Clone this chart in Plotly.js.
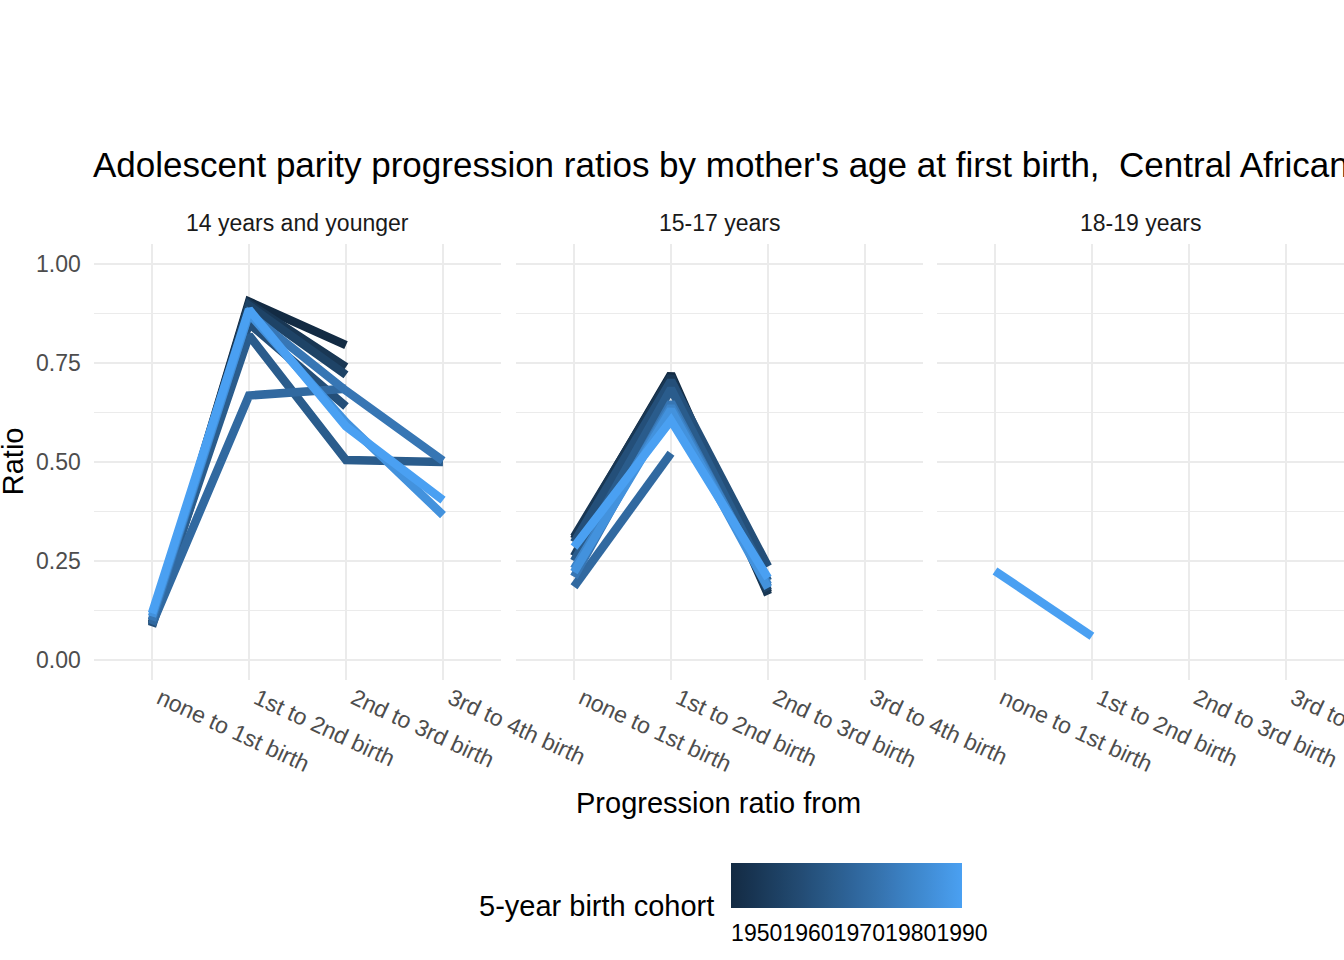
<!DOCTYPE html>
<html>
<head>
<meta charset="utf-8">
<script src="https://cdn.plot.ly/plotly-3.0.1.min.js"></script>
<style>html,body{margin:0;padding:0;background:#fff;}#chart{width:1344px;height:960px;}</style>
</head>
<body>
<div id="chart"></div>
<script>
// ---------- data ----------
const categories = ["none to 1st birth", "1st to 2nd birth", "2nd to 3rd birth", "3rd to 4th birth"];
const panelLabels = ["14 years and younger", "15-17 years", "18-19 years"];
const colorTicks = [1950, 1960, 1970, 1980, 1990];
const cohortMin = 1945;
const cohortMax = 1990;

// 14 years and younger
const cohorts14 = [1945, 1950, 1955, 1960, 1965, 1970, 1975, 1985, 1990];
const ratios14 = [
  [0.090, 0.905, 0.795, null],
  [0.090, 0.900, 0.740, null],
  [0.095, 0.895, 0.720, null],
  [0.085, 0.850, 0.640, null],
  [0.100, 0.820, 0.505, 0.500],
  [0.090, 0.668, 0.685, null],
  [0.100, 0.875, 0.680, 0.503],
  [0.110, 0.875, 0.600, 0.366],
  [0.118, 0.885, 0.590, 0.404]
];

// 15-17 years
const cohorts1517 = [1945, 1950, 1955, 1960, 1965, 1970, 1975, 1980, 1985, 1990];
const ratios1517 = [
  [0.305, 0.722, 0.170],
  [0.311, 0.716, 0.165],
  [0.262, 0.705, 0.175],
  [0.297, 0.705, 0.236],
  [0.250, 0.685, 0.200],
  [0.185, 0.522, null],
  [0.210, 0.650, 0.185],
  [0.230, 0.640, 0.190],
  [0.222, 0.632, 0.182],
  [0.285, 0.605, 0.207]
];

// 18-19 years
const cohorts1819 = [1990];
const ratios1819 = [
  [0.225, 0.060]
];

// ---------- colour helpers (Lab interpolation like ggplot's gradient) ----------
const lowHex = "#132B43", highHex = "#4AA0F2";
function hexToRgb(h){h=h.replace('#','');return [parseInt(h.substr(0,2),16),parseInt(h.substr(2,2),16),parseInt(h.substr(4,2),16)];}
function lin(c){c/=255;return c<=0.04045?c/12.92:Math.pow((c+0.055)/1.055,2.4);}
function delin(c){const v=c<=0.0031308?12.92*c:1.055*Math.pow(c,1/2.4)-0.055;return Math.max(0,Math.min(255,Math.round(v*255)));}
const Xn=0.95047,Yn=1,Zn=1.08883;
function f(t){return t>0.008856?Math.cbrt(t):7.787*t+16/116;}
function finv(t){const t3=t*t*t;return t3>0.008856?t3:(t-16/116)/7.787;}
function rgbToLab(rgb){const r=lin(rgb[0]),g=lin(rgb[1]),b=lin(rgb[2]);
  const X=0.4124564*r+0.3575761*g+0.1804375*b,Y=0.2126729*r+0.7151522*g+0.0721750*b,Z=0.0193339*r+0.1191920*g+0.9503041*b;
  const fx=f(X/Xn),fy=f(Y/Yn),fz=f(Z/Zn);return [116*fy-16,500*(fx-fy),200*(fy-fz)];}
function labToRgb(lab){const fy=(lab[0]+16)/116,fx=fy+lab[1]/500,fz=fy-lab[2]/200;
  const X=Xn*finv(fx),Y=Yn*finv(fy),Z=Zn*finv(fz);
  const r=3.2404542*X-1.5371385*Y-0.4985314*Z,g=-0.9692660*X+1.8760108*Y+0.0415560*Z,b=0.0556434*X-0.2040259*Y+1.0572252*Z;
  return [delin(r),delin(g),delin(b)];}
const labLo=rgbToLab(hexToRgb(lowHex)),labHi=rgbToLab(hexToRgb(highHex));
function colorAt(t){const lab=[0,1,2].map(i=>labLo[i]+(labHi[i]-labLo[i])*t);const c=labToRgb(lab);return 'rgb('+c.join(',')+')';}
function cohortColor(c){return colorAt((c-cohortMin)/(cohortMax-cohortMin));}
const colorscale=[];for(let i=0;i<=20;i++){colorscale.push([i/20,colorAt(i/20)]);}

// ---------- traces ----------
const traces=[];
function addPanel(cohorts, ratios, xa){
  cohorts.forEach((c,i)=>{
    traces.push({type:'scatter',mode:'lines',xaxis:xa,yaxis:'y',
      x:categories.slice(0,ratios[i].length),y:ratios[i],
      line:{color:cohortColor(c),width:8.5},connectgaps:false,hoverinfo:'skip',showlegend:false});
  });
}
addPanel(cohorts14, ratios14, 'x');
addPanel(cohorts1517, ratios1517, 'x2');
addPanel(cohorts1819, ratios1819, 'x3');

const fontFam='Liberation Sans, Arial, Helvetica, sans-serif';
// colour bar carrier
traces.push({type:'scatter',mode:'markers',xaxis:'x',yaxis:'y',x:[null,null],y:[null,null],showlegend:false,hoverinfo:'skip',
  marker:{color:[cohortMin,cohortMax],cmin:cohortMin,cmax:cohortMax,colorscale:colorscale,showscale:true,
    colorbar:{orientation:'h',thickness:45,thicknessmode:'pixels',len:231,lenmode:'pixels',
      x:731/1344,xanchor:'left',xref:'container',y:1-863/960,yanchor:'top',yref:'container',
      xpad:0,ypad:0,outlinewidth:0,tickvals:colorTicks,ticktext:colorTicks.map(String),tickangle:0,
      ticks:'outside',ticklen:6,tickcolor:'rgba(255,255,255,0)',tickwidth:1,
      tickfont:{family:fontFam,size:23,color:'#000'}}}});

// ---------- layout ----------
const W=1344,H=960;
const yTop=244.2,yBot=679.8;
const panels=[[93.8,501.2],[515.8,923.2],[936.8,1344.2]];
function xaxisDef(p){return {domain:[p[0]/W,Math.min(1,p[1]/W)],type:'category',categoryorder:'array',categoryarray:categories,
  range:[-0.6,3.6],showgrid:true,gridcolor:'#EBEBEB',gridwidth:2,zeroline:false,showline:false,ticks:'',
  tickangle:25,ticklabelshift:8,tickfont:{family:fontFam,size:23,color:'#4D4D4D'},anchor:'y',fixedrange:true,automargin:false};}
const layout={
  width:W,height:H,margin:{l:0,r:0,t:0,b:0,autoexpand:false},paper_bgcolor:'#fff',plot_bgcolor:'#fff',showlegend:false,
  title:{text:"Adolescent parity progression ratios by mother's age at first birth,\u00a0 Central African Republic",
    x:93/W,xanchor:'left',xref:'container',y:1-164.6/H,yanchor:'middle',yref:'container',automargin:false,
    font:{family:fontFam,size:35,color:'#000'}},
  xaxis:xaxisDef(panels[0]),xaxis2:xaxisDef(panels[1]),xaxis3:xaxisDef(panels[2]),
  yaxis:{domain:[1-yBot/H,1-yTop/H],range:[-0.05,1.05],tickvals:[0,0.25,0.5,0.75,1],ticktext:['0.00','0.25','0.50','0.75','1.00'],
    showgrid:true,gridcolor:'#EBEBEB',gridwidth:2,zeroline:false,showline:false,ticks:'',ticklabelstandoff:12,
    minor:{tickvals:[0.125,0.375,0.625,0.875],showgrid:true,gridcolor:'#EBEBEB',gridwidth:1,ticks:''},
    tickfont:{family:fontFam,size:23,color:'#4D4D4D'},anchor:'x',fixedrange:true,automargin:false},
  annotations:[
    ...panelLabels.map((t,i)=>({text:t,xref:'paper',yref:'paper',x:(panels[i][0]+panels[i][1])/2/W,y:1-222.6/H,
      xanchor:'center',yanchor:'middle',showarrow:false,font:{family:fontFam,size:23,color:'#1A1A1A'}})),
    {text:'Progression ratio from',xref:'paper',yref:'paper',x:718/W,y:1-803/H,xanchor:'center',yanchor:'middle',showarrow:false,
      font:{family:fontFam,size:29,color:'#000'}},
    {text:'Ratio',xref:'paper',yref:'paper',x:12.5/W,y:1-461.7/H,xanchor:'center',yanchor:'middle',textangle:-90,showarrow:false,
      font:{family:fontFam,size:29,color:'#000'}},
    {text:'5-year birth cohort',xref:'paper',yref:'paper',x:716/W,y:1-906/H,xanchor:'right',yanchor:'middle',showarrow:false,
      font:{family:fontFam,size:29,color:'#000'}}
  ]
};
Plotly.newPlot('chart',traces,layout,{displayModeBar:false,staticPlot:true});
</script>
</body>
</html>
